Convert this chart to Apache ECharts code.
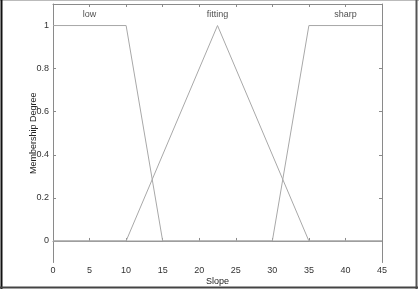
<!DOCTYPE html>
<html><head><meta charset="utf-8">
<script src="https://cdn.jsdelivr.net/npm/echarts@6/dist/echarts.min.js"></script>
<style>html,body{margin:0;padding:0;background:#fff}#c{width:419px;height:291px}</style>
</head><body><div id="c"></div>
<script>
const lowX = [0, 10, 15, 45];
const lowY = [1, 1, 0, 0];
const fitX = [0, 10, 22.5, 35, 45];
const fitY = [0, 0, 1, 0, 0];
const sharpX = [0, 30, 35, 45];
const sharpY = [0, 0, 1, 1];
const setNames = ['low', 'fitting', 'sharp'];
const setLabelX = [5, 22.5, 40];
const setLabelY = 1.05;
const yTicks = [0, 0.2, 0.4, 0.6, 0.8, 1];

const zip = (xs, ys) => xs.map((x, i) => [x, ys[i]]);
const font = 'Liberation Sans, Arial, sans-serif';
const axisCol = '#8a8a8a';
const lineCol = '#a8a8a8';

const chart = echarts.init(document.getElementById('c'), null, {renderer: 'canvas'});
const lineSeries = (d) => ({type: 'line', data: d, symbol: 'none', lineStyle: {color: lineCol, width: 1}, xAxisIndex: 0, yAxisIndex: 0, animation: false});
chart.setOption({
  animation: false,
  grid: {left: 53, right: 37, top: 4, bottom: 27},
  xAxis: [
    {type: 'value', min: 0, max: 45, interval: 5, position: 'bottom',
     name: 'Slope', nameLocation: 'middle', nameGap: 14.5, nameMoveOverlap: false,
     nameTextStyle: {fontFamily: font, fontSize: 9, color: '#222'},
     axisLine: {show: true, lineStyle: {color: axisCol}},
     axisTick: {show: true, inside: true, length: 3, lineStyle: {color: axisCol}},
     axisLabel: {fontFamily: font, fontSize: 9, color: '#333', margin: 4},
     splitLine: {show: false}},
    {type: 'value', min: 0, max: 45, interval: 5, position: 'top',
     axisLine: {show: true, onZero: false, lineStyle: {color: axisCol}},
     axisTick: {show: true, inside: true, length: 3, lineStyle: {color: axisCol}},
     axisLabel: {show: false}, splitLine: {show: false}}
  ],
  yAxis: [
    {type: 'value', min: -0.1, max: 1.1, position: 'left',
     name: 'Membership Degree', nameLocation: 'middle', nameGap: 15, nameRotate: 90, nameMoveOverlap: false,
     nameTextStyle: {fontFamily: font, fontSize: 9, color: '#222'},
     axisLine: {show: true, onZero: false, lineStyle: {color: axisCol}},
     axisTick: {show: true, inside: true, length: 3, customValues: yTicks, lineStyle: {color: axisCol}},
     axisLabel: {fontFamily: font, fontSize: 9, color: '#333', margin: 4, customValues: yTicks,
                 formatter: v => String(Math.round(v * 10) / 10)},
     splitLine: {show: false}},
    {type: 'value', min: -0.1, max: 1.1, position: 'right',
     axisLine: {show: true, onZero: false, lineStyle: {color: axisCol}},
     axisTick: {show: true, inside: true, length: 3, customValues: yTicks, lineStyle: {color: axisCol}},
     axisLabel: {show: false}, splitLine: {show: false}}
  ],
  series: [
    lineSeries(zip(lowX, lowY)),
    lineSeries(zip(fitX, fitY)),
    lineSeries(zip(sharpX, sharpY)),
    {type: 'scatter', symbolSize: 0, xAxisIndex: 0, yAxisIndex: 0,
     data: setLabelX.map((x, i) => ({value: [x, setLabelY], name: setNames[i]})),
     label: {show: true, position: 'inside', formatter: p => p.name,
             fontFamily: font, fontSize: 9, color: '#222'}}
  ],
  graphic: [
    {type: 'line', shape: {x1: 0, y1: 0.5, x2: 419, y2: 0.5}, style: {stroke: '#bbb', lineWidth: 1}},
    {type: 'line', shape: {x1: 1.5, y1: 0, x2: 1.5, y2: 289}, style: {stroke: '#111', lineWidth: 2}},
    {type: 'line', shape: {x1: 416.5, y1: 0, x2: 416.5, y2: 289}, style: {stroke: '#555', lineWidth: 2}},
    {type: 'line', shape: {x1: 0, y1: 287.5, x2: 418, y2: 287.5}, style: {stroke: '#444', lineWidth: 2}}
  ]
});
</script></body></html>
